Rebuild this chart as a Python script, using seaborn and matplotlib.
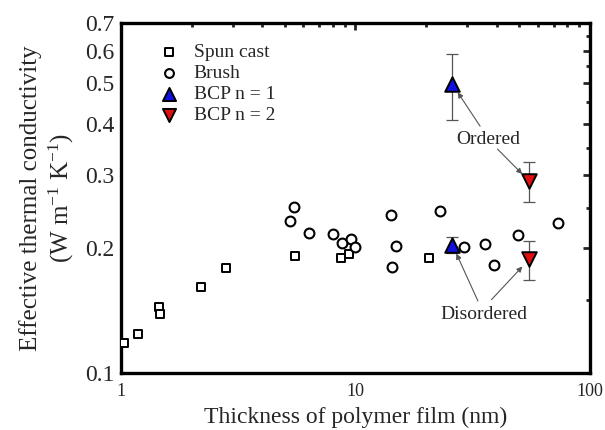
import matplotlib
matplotlib.use("Agg")
import matplotlib.pyplot as plt
import seaborn as sns
import numpy as np
import pandas as pd
from matplotlib.ticker import FixedLocator, FixedFormatter, LogLocator, NullFormatter

# ---- data ----
spun_x = [1.03, 1.18, 1.45, 1.47, 2.19, 2.80, 5.52, 8.65, 9.35, 20.5]
spun_y = [0.118, 0.124, 0.144, 0.139, 0.161, 0.179, 0.192, 0.189, 0.194, 0.189]

brush_x = [5.26, 5.48, 6.31, 8.04, 8.73, 9.54, 9.95, 14.2, 14.9, 14.3, 22.9, 29.1, 35.7, 39.0, 49.6, 73.3]
brush_y = [0.233, 0.252, 0.218, 0.216, 0.206, 0.211, 0.202, 0.241, 0.203, 0.180, 0.246, 0.201, 0.205, 0.182, 0.215, 0.230]

bcp1_x = [25.9, 25.9]
bcp1_y = [0.498, 0.204]
bcp1_err = [0.09, 0.0095]

bcp2_x = [55.0, 55.0]
bcp2_y = [0.291, 0.188]
bcp2_err = [0.032, 0.020]

x_ticks = [1, 10, 100]
x_ticklabels = ["1", "10", "100"]
y_ticks = [0.1, 0.2, 0.3, 0.4, 0.5, 0.6, 0.7]
y_ticklabels = ["0.1", "0.2", "0.3", "0.4", "0.5", "0.6", "0.7"]
y_minor = [0.15, 0.25, 0.35, 0.45, 0.55, 0.65]

# ---- style ----
sns.set_style("white")
plt.rcParams['font.family'] = ['Liberation Serif', 'DejaVu Serif']
plt.rcParams['mathtext.fontset'] = 'custom'
plt.rcParams['mathtext.rm'] = 'Liberation Serif'
plt.rcParams['mathtext.it'] = 'Liberation Serif:italic'

fig = plt.figure(figsize=(6.05, 4.30), dpi=100)
ax = fig.add_axes([0.200, 0.1326, 0.775, 0.814])

df_spun = pd.DataFrame({"x": spun_x, "y": spun_y})
df_brush = pd.DataFrame({"x": brush_x, "y": brush_y})
df_b1 = pd.DataFrame({"x": bcp1_x, "y": bcp1_y})
df_b2 = pd.DataFrame({"x": bcp2_x, "y": bcp2_y})

# error bars first (behind markers)
ax.errorbar(bcp1_x, bcp1_y, yerr=bcp1_err, fmt='none', ecolor='#555555',
            elinewidth=0.9, capsize=4, capthick=0.9, zorder=2)
ax.errorbar(bcp2_x, bcp2_y, yerr=bcp2_err, fmt='none', ecolor='#555555',
            elinewidth=0.9, capsize=4, capthick=0.9, zorder=2)

sns.scatterplot(data=df_spun, x="x", y="y", marker='s', s=36, facecolor='white',
                edgecolor='black', linewidth=1.4, ax=ax, zorder=3, label="Spun cast")
sns.scatterplot(data=df_brush, x="x", y="y", marker='o', s=50, facecolor='white',
                edgecolor='black', linewidth=1.5, ax=ax, zorder=3, label="Brush")
sns.scatterplot(data=df_b1, x="x", y="y", marker='^', s=110, facecolor='#1010e0',
                edgecolor='black', linewidth=1.4, ax=ax, zorder=4, label="BCP n = 1")
sns.scatterplot(data=df_b2, x="x", y="y", marker='v', s=110, facecolor='#e01010',
                edgecolor='black', linewidth=1.4, ax=ax, zorder=4, label="BCP n = 2")

ax.set_xscale('log')
ax.set_yscale('log')
ax.set_xlim(1, 100)
ax.set_ylim(0.1, 0.7)

ax.xaxis.set_major_locator(FixedLocator(x_ticks))
ax.xaxis.set_major_formatter(FixedFormatter(x_ticklabels))
ax.xaxis.set_minor_locator(LogLocator(base=10, subs=np.arange(2, 10)))
ax.xaxis.set_minor_formatter(NullFormatter())
ax.yaxis.set_major_locator(FixedLocator(y_ticks))
ax.yaxis.set_major_formatter(FixedFormatter(y_ticklabels))
ax.yaxis.set_minor_locator(FixedLocator(y_minor))
ax.yaxis.set_minor_formatter(NullFormatter())

ax.tick_params(which='both', direction='in', top=True, right=True, width=2.0)
ax.tick_params(which='major', length=5)
ax.tick_params(which='minor', length=3)
ax.tick_params(axis='x', which='major', labelsize=13, pad=7)
ax.tick_params(axis='y', which='major', labelsize=17, pad=5)
for sp in ax.spines.values():
    sp.set_linewidth(2.4)
    sp.set_color('black')

ax.set_xlabel("Thickness of polymer film (nm)", fontsize=17, labelpad=5)
ax.set_ylabel("Effective thermal conductivity\n(W m$^{-1}$ K$^{-1}$)", fontsize=18,
              labelpad=6, linespacing=1.25)

leg = ax.legend(loc='upper left', bbox_to_anchor=(0.035, 0.975), frameon=False,
                fontsize=14, handletextpad=0.3, labelspacing=0.18, borderaxespad=0.2,
                markerscale=0.9)

# annotations
arrow_kw = dict(arrowstyle='-|>', color='#555555', lw=0.8, mutation_scale=8,
                shrinkA=1, shrinkB=7)
ax.annotate("Ordered", xy=(bcp1_x[0], bcp1_y[0]), xytext=(37.0, 0.367),
            ha='center', va='center', fontsize=14, arrowprops=arrow_kw)
ax.annotate("", xy=(bcp2_x[0], bcp2_y[0]), xytext=(40.0, 0.349),
            arrowprops=arrow_kw)
ax.annotate("Disordered", xy=(bcp1_x[1], bcp1_y[1]), xytext=(35.3, 0.1388),
            ha='center', va='center', fontsize=14, arrowprops=arrow_kw)
ax.annotate("", xy=(bcp2_x[1], bcp2_y[1]), xytext=(37.7, 0.1495),
            arrowprops=arrow_kw)

fig.savefig("out.png", dpi=100)
